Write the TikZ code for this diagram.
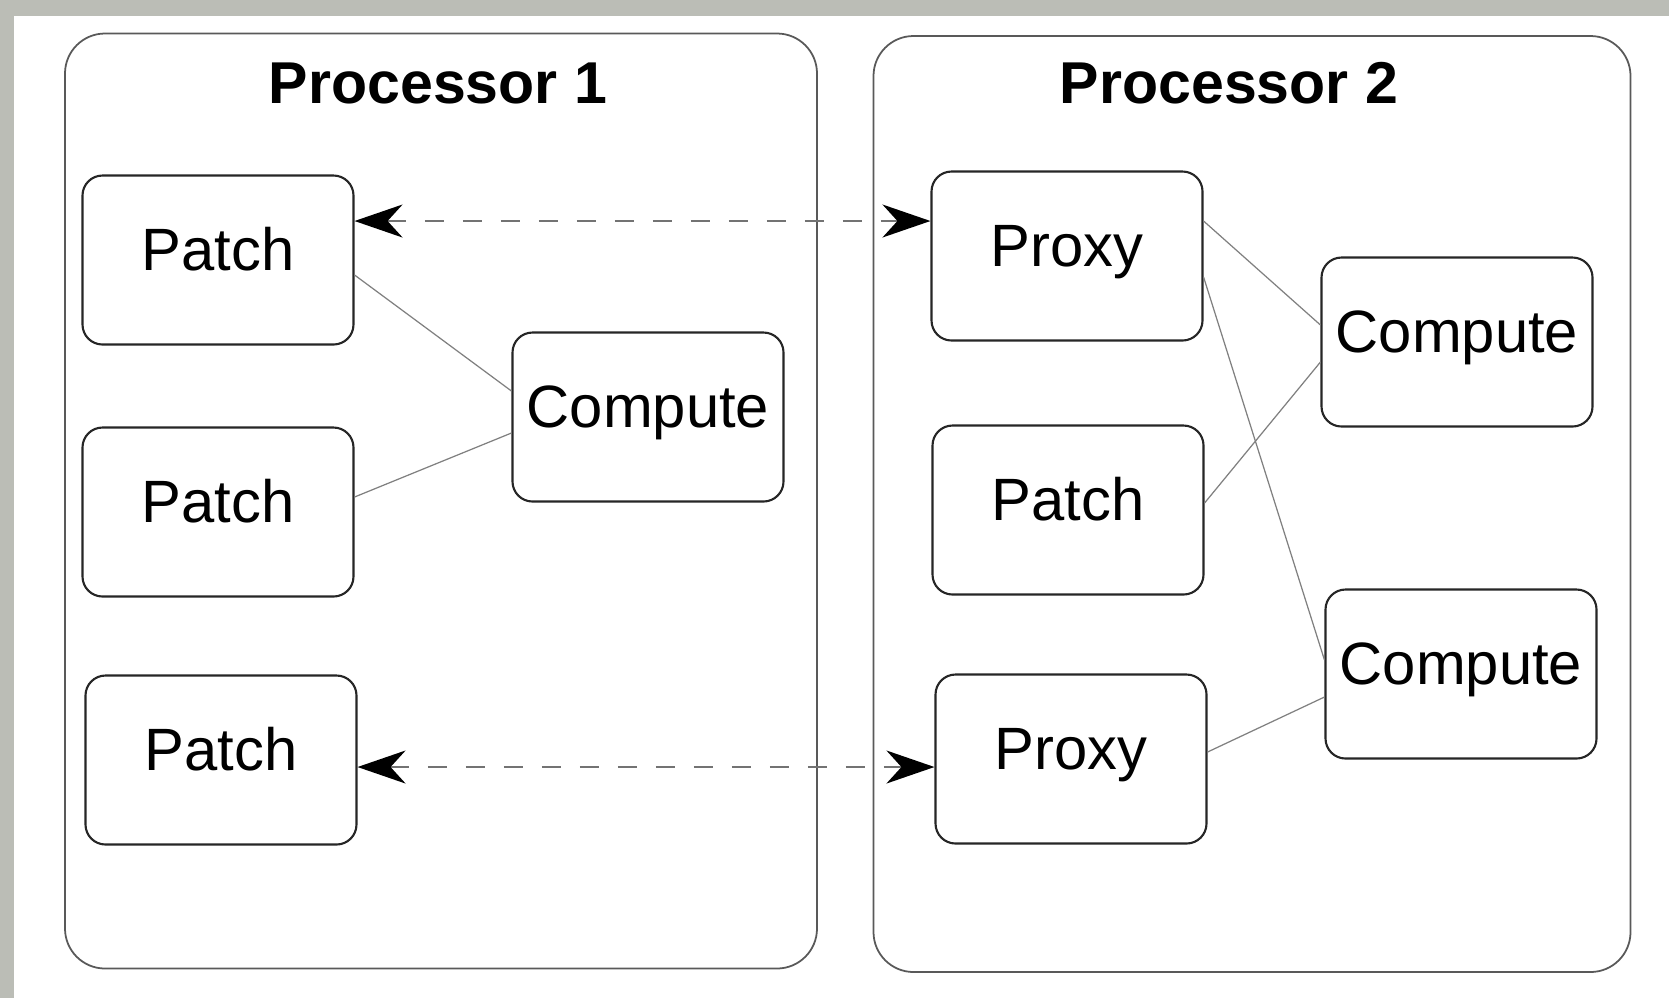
\documentclass[tikz,border=0pt]{standalone}
\usepackage{fontspec}
\setmainfont{Liberation Sans}
\usepackage{tikz}
\usetikzlibrary{arrows.meta}
\definecolor{framegray}{RGB}{187,189,182}

\begin{document}
\begin{tikzpicture}[
    box/.style={rectangle,rounded corners=0.2cm,draw=black!85,line width=0.6pt,
                minimum width=2.71cm,minimum height=1.69cm,inner sep=0pt,
                text height=0.45cm,text depth=0.24cm,font=\fontsize{17}{20}\selectfont},
    proc/.style={rectangle,rounded corners=0.4cm,draw=black!65,line width=0.5pt,inner sep=0pt},
    title/.style={anchor=base,font=\fontsize{16.8}{20}\selectfont\bfseries},
    link/.style={draw=black!50,line width=0.35pt},
    xfer/.style={draw=black!55,line width=0.5pt,dash pattern=on 0.19cm off 0.19cm,
                 arrows={Stealth[length=4.8mm,width=3.3mm,inset=1.5mm,color=black]-Stealth[length=4.8mm,width=3.3mm,inset=1.5mm,color=black]}}]

      \useasboundingbox (0,0) rectangle (16.69,-9.98);
      \fill[framegray] (0,0) rectangle (16.69,-9.98);
      \fill[white] (0.14,-0.16) rectangle (16.69,-9.98);

      % processors
      \node[proc,minimum width=7.52cm,minimum height=9.35cm] (proc1) at (4.41,-5.01) {};
      \node[proc,minimum width=7.57cm,minimum height=9.36cm] (proc2) at (12.52,-5.04) {};
      \node[title] (title1) at (4.38,-1.03) {Processor 1};
      \node[title] (title2) at (12.29,-1.03) {Processor 2};

      % processor 1
      \node[box] (patchA) at (2.18,-2.60) {Patch};
      \node[box] (patchB) at (2.18,-5.12) {Patch};
      \node[box] (patchC) at (2.21,-7.60) {Patch};
      \node[box] (computeA) at (6.48,-4.17) {Compute};

      % processor 2
      \node[box] (proxyA) at (10.67,-2.56) {Proxy};
      \node[box] (patchD) at (10.68,-5.10) {Patch};
      \node[box] (proxyB) at (10.71,-7.59) {Proxy};
      \node[box] (computeB) at (14.57,-3.42) {Compute};
      \node[box] (computeC) at (14.61,-6.74) {Compute};

      \path[link] ([yshift=-0.15cm]patchA.east) edge ([yshift=0.26cm]computeA.west);
      \path[link] ([yshift=0.15cm]patchB.east) edge ([yshift=-0.16cm]computeA.west);
    %
      \path[link] ([yshift=0.35cm]proxyA.east) edge ([yshift=0.17cm]computeB.west);
      \path[link] ([yshift=-0.21cm]proxyA.east) edge ([yshift=0.14cm]computeC.west);
      \path[link] ([yshift=0.07cm]patchD.east) edge ([yshift=-0.20cm]computeB.west);
      \path[link] ([yshift=0.07cm]proxyB.east) edge ([yshift=-0.23cm]computeC.west);
    %
      \draw[xfer] ([yshift=0.39cm]patchA.east) coordinate (xferA) -- (xferA -| proxyA.west);
      \draw[xfer] ([yshift=-0.07cm]patchC.east) coordinate (xferB) -- (xferB -| proxyB.west);
\end{tikzpicture}
\end{document}
